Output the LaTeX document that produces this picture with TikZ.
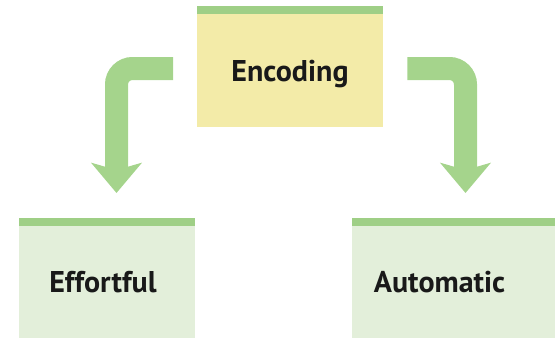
\documentclass[tikz,border=0pt]{standalone}
\usepackage{fontspec}
\setmainfont{PT Sans}
\usetikzlibrary{arrows.meta}
\definecolor{stripegreen}{HTML}{9FCF86}
\definecolor{arrowgreen}{HTML}{A5D48C}
\definecolor{topfill}{HTML}{F3EBA8}
\definecolor{lowfill}{HTML}{E3EFDA}
\tikzset{
  box/.style={rectangle, draw=none, inner sep=0pt, anchor=north west},
  lbl/.style={font=\fontsize{30}{34}\selectfont\bfseries, text=black!90, inner sep=0pt, anchor=base},
  bentarrow/.style={draw=arrowgreen, line width=23pt, rounded corners=16pt,
    -{Stealth[length=30pt, width=50pt, inset=7pt]}},
}
\begin{document}
\begin{tikzpicture}[x=1pt, y=-1pt]
\useasboundingbox (0,0) rectangle (555,338);
% boxes
\node[box, fill=topfill, minimum width=186pt, minimum height=121pt] (enc) at (197,6) {};
\node[box, fill=lowfill, minimum width=176pt, minimum height=120pt] (eff) at (19,218) {};
\node[box, fill=lowfill, minimum width=203pt, minimum height=120pt] (aut) at (352,218) {};
% top stripes
\foreach \b in {enc, eff, aut}
  \fill[stripegreen] (\b.north west) rectangle ([yshift=-8pt]\b.north east);
% labels
\node[lbl] (enctext) at (290,81) {Encoding};
\node[lbl] (efftext) at (103,292) {Effortful};
\node[lbl] (auttext) at (439.5,292) {Automatic};
% bent arrows
\coordinate (lstart) at ([xshift=-24pt, yshift=-62.5pt]enc.north west);
\coordinate (ltip) at (116.5,193);
\coordinate (rstart) at ([xshift=24pt, yshift=-62.5pt]enc.north east);
\coordinate (rtip) at (465.5,193);
\draw[bentarrow] (lstart) -| (ltip);
\draw[bentarrow] (rstart) -| (rtip);
\end{tikzpicture}
\end{document}
